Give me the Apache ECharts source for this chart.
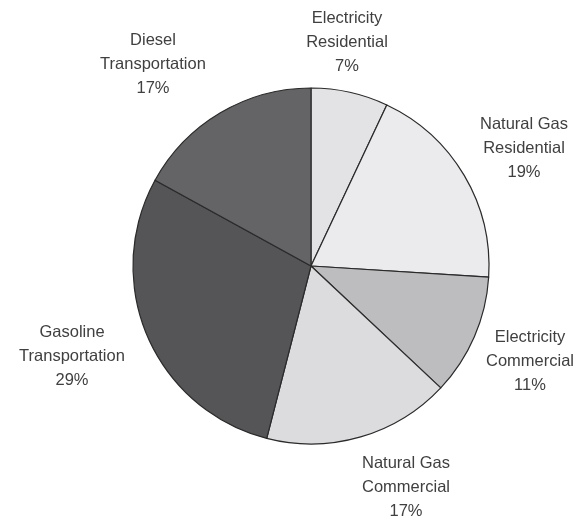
<!DOCTYPE html>
<html><head><meta charset="utf-8">
<script src="https://cdn.jsdelivr.net/npm/echarts@6/dist/echarts.min.js"></script>
<style>html,body{margin:0;padding:0;background:#fff}#c{width:584px;height:523px}</style>
</head><body><div id="c"></div>
<script>
var categories = ["Electricity\nResidential", "Natural Gas\nResidential", "Electricity\nCommercial", "Natural Gas\nCommercial", "Gasoline\nTransportation", "Diesel\nTransportation"];
var values = [7, 19, 11, 17, 29, 17];
var colors = ["#e3e3e5", "#ebebed", "#bdbdbf", "#dcdcde", "#555557", "#646466"];
var labelPos = [[347, 42], [524, 148], [530, 361], [406, 487], [72, 356], [153, 64]];

var chart = echarts.init(document.getElementById('c'));
chart.setOption({
  animation: false,
  series: [{
    type: 'pie',
    center: [311, 266],
    radius: 178,
    startAngle: 90,
    clockwise: true,
    data: categories.map(function (n, i) {
      return { name: n, value: values[i], itemStyle: { color: colors[i] } };
    }),
    itemStyle: { borderColor: '#2a2a2a', borderWidth: 1.2 },
    label: {
      show: true,
      position: 'outside',
      alignTo: 'none',
      overflow: 'none',
      bleedMargin: 0,
      formatter: function (p) { return p.name + '\n' + p.value + '%'; },
      fontFamily: 'Liberation Sans, Arial, sans-serif',
      fontSize: 16.5,
      lineHeight: 24,
      color: '#404040',
      align: 'center'
    },
    labelLine: { show: false },
    labelLayout: function (p) {
      var pos = labelPos[p.dataIndex];
      return { x: pos[0], y: pos[1], align: 'center', verticalAlign: 'middle', width: 200 };
    },
    emphasis: { disabled: true }
  }]
});
</script></body></html>
